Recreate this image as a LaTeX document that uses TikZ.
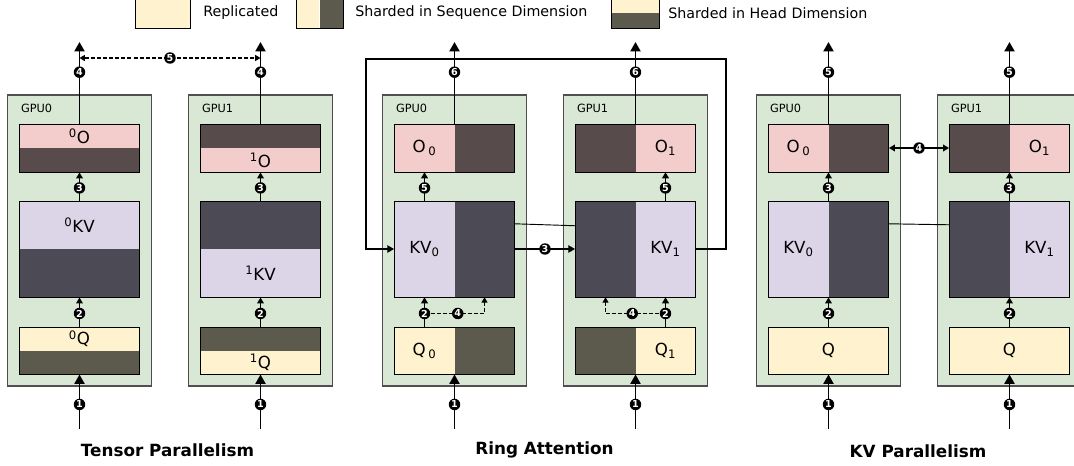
\documentclass[tikz,border=0pt]{standalone}
\usepackage{fontspec}
\setmainfont{DejaVu Sans}
\usepackage{tikz}
\usetikzlibrary{calc}
\usetikzlibrary{arrows.meta}
\definecolor{gpufill}{HTML}{D9E8D4}
\definecolor{gpuline}{HTML}{4F4F4F}
\definecolor{ofill}{HTML}{F2CDCB}
\definecolor{odark}{HTML}{574C4B}
\definecolor{kvfill}{HTML}{DCD4E7}
\definecolor{kvdark}{HTML}{4C4A55}
\definecolor{qfill}{HTML}{FEF2CF}
\definecolor{qdark}{HTML}{5C5A4C}

\begin{document}
\begin{tikzpicture}[x=0.75pt,y=-0.75pt]
		\tikzstyle{gpu}=[draw=gpuline, fill=gpufill, line width=1.1pt, inner sep=0, minimum width=108pt, minimum height=218.25pt]
		\tikzstyle{gpuname}=[inner sep=0, anchor=west, font=\fontsize{8.5}{10}\selectfont]
		\tikzstyle{half}=[inner sep=0, font=\fontsize{12.5}{14}\selectfont]
		\tikzstyle{wide}=[half, minimum width=90pt]
		\tikzstyle{narrow}=[half, minimum width=45pt]
		\tikzstyle{blk}=[draw=black, line width=0.7pt, inner sep=0, minimum width=90pt]
		\tikzstyle{legbox}=[draw=black, line width=0.7pt, inner sep=0, minimum height=21.75pt]
		\tikzstyle{legtext}=[inner sep=0, anchor=west, font=\fontsize{10.7}{13}\selectfont]
		\tikzstyle{title}=[inner sep=0, font=\fontsize{12.6}{14}\selectfont\bfseries]
		\tikzstyle{num}=[circle, fill=black, text=white, inner sep=0, minimum size=8.6pt, font=\fontsize{7.2}{8}\selectfont\bfseries]
		\tikzstyle{bigflow}=[line width=1.4pt, -{Triangle[width=7.5pt,length=7pt]}]
		\tikzstyle{flow}=[line width=1.2pt, -{Triangle[width=5pt,length=4.5pt]}]
		\tikzstyle{thinflow}=[line width=0.9pt, -{Triangle[width=5.5pt,length=5pt]}]
		\tikzstyle{thinline}=[line width=0.7pt]
		\tikzstyle{dashflow}=[line width=0.9pt, dash pattern=on 3pt off 1.6pt, -{Triangle[width=4.5pt,length=4pt]}]
		\useasboundingbox (0,0) rectangle (1074,465);

		% legend
		\node[legbox, fill=qfill, minimum width=41.25pt] (leg1) at (162.5,13.5) {};
		\node[legtext] (leg1t) at (203,13) {Replicated};
		\node[inner sep=0, fill=qfill, minimum width=17.6pt, minimum height=21.75pt] (leg2a) at (307.75,13.5) {};
		\node[inner sep=0, fill=qdark, minimum width=17.6pt, minimum height=21.75pt] (leg2b) at (331.25,13.5) {};
		\node[legbox, minimum width=35.25pt] (leg2) at (319.5,13.5) {};
		\node[legtext] (leg2t) at (355,13) {Sharded in Sequence Dimension};
		\node[inner sep=0, fill=qfill, minimum width=36pt, minimum height=10.5pt] (leg3a) at (635,6) {};
		\node[inner sep=0, fill=qdark, minimum width=36pt, minimum height=11.25pt] (leg3b) at (635,20.5) {};
		\node[legbox, minimum width=36pt] (leg3) at (635,13.5) {};
		\node[legtext] (leg3t) at (668,13) {Sharded in Head Dimension};

		% gpu boxes
		\foreach \x/\n/\g in {79.5/tp0/0, 260.5/tp1/1, 454.5/ra0/0, 635.5/ra1/1, 828.5/kp0/0, 1009.5/kp1/1} {
			\node[gpu] (gpu\n) at (\x,240.5) {};
			\node[gpuname] (name\n) at ($(gpu\n.north west)+(14,14)$) {GPU\g};
		}

		% tensor parallelism blocks
		\foreach \bn/\ly/\hh/\lt/\dk in {O/148/48/ofill/odark, KV/249/96/kvfill/kvdark, Q/350.5/47/qfill/qdark} {
			\node[wide, fill=\lt, minimum height={\hh*0.375pt}] (tp0\bn a) at (79.5,\ly-\hh/4) {\textsuperscript{0}\bn};
			\node[wide, fill=\dk, minimum height={\hh*0.375pt}] (tp0\bn b) at (79.5,\ly+\hh/4) {};
			\node[wide, fill=\dk, minimum height={\hh*0.375pt}] (tp1\bn a) at (260.5,\ly-\hh/4) {};
			\node[wide, fill=\lt, minimum height={\hh*0.375pt}] (tp1\bn b) at (260.5,\ly+\hh/4) {\textsuperscript{1}\bn};
		}

		% ring attention and kv parallelism blocks
		\foreach \p/\x in {ra0/454.5, kp0/828.5} {
			\node[narrow, fill=ofill, minimum height=36pt] (\p Oa) at (\x-30,148) {O\,\textsubscript{0}};
			\node[narrow, fill=odark, minimum height=36pt] (\p Ob) at (\x+30,148) {};
			\node[narrow, fill=kvfill, minimum height=72pt] (\p KVa) at (\x-30,249) {KV\textsubscript{0}};
			\node[narrow, fill=kvdark, minimum height=72pt] (\p KVb) at (\x+30,249) {};
		}
		\foreach \p/\x in {ra1/635.5, kp1/1009.5} {
			\node[narrow, fill=odark, minimum height=36pt] (\p Oa) at (\x-30,148) {};
			\node[narrow, fill=ofill, minimum height=36pt] (\p Ob) at (\x+30,148) {O\textsubscript{1}};
			\node[narrow, fill=kvdark, minimum height=72pt] (\p KVa) at (\x-30,249) {};
			\node[narrow, fill=kvfill, minimum height=72pt] (\p KVb) at (\x+30,249) {KV\textsubscript{1}};
		}
		\node[narrow, fill=qfill, minimum height=35.25pt] (ra0Qa) at (424.5,350.5) {Q\,\textsubscript{0}};
		\node[narrow, fill=qdark, minimum height=35.25pt] (ra0Qb) at (484.5,350.5) {};
		\node[narrow, fill=qdark, minimum height=35.25pt] (ra1Qa) at (605.5,350.5) {};
		\node[narrow, fill=qfill, minimum height=35.25pt] (ra1Qb) at (665.5,350.5) {Q\textsubscript{1}};
		\node[wide, fill=qfill, minimum height=35.25pt] (kp0Qa) at (828.5,350.5) {Q};
		\node[wide, fill=qfill, minimum height=35.25pt] (kp1Qa) at (1009.5,350.5) {Q};

		% outlines and inputs
		\foreach \n/\x in {tp0/79.5, tp1/260.5, ra0/454.5, ra1/635.5, kp0/828.5, kp1/1009.5} {
			\node[blk, minimum height=36pt] (\n O) at (\x,148) {};
			\node[blk, minimum height=72pt] (\n KV) at (\x,249) {};
			\node[blk, minimum height=35.25pt] (\n Q) at (\x,350.5) {};
			\coordinate (in\n) at (\x,429);
			\coordinate (out\n) at (\x,42);
			\draw[bigflow] (in\n) -- node[num, pos=0.45] (s1\n) {1} (\n Q.south);
		}

		% tensor parallelism
		\foreach \n in {tp0,tp1} {
			\draw[flow] (\n Q.north) -- node[num, pos=0.45] (s2\n) {2} (\n KV.south);
			\draw[flow] (\n KV.north) -- node[num, pos=0.45] (s3\n) {3} (\n O.south);
			\draw[bigflow] (\n O.north) -- node[num, pos=0.63] (s4\n) {4} (out\n);
		}
		\coordinate (tpd0) at ($(outtp0)+(0,16)$);
		\coordinate (tpd1) at ($(outtp1)+(0,16)$);
		\draw[dashflow, {Triangle[width=4.5pt,length=4pt]}-{Triangle[width=4.5pt,length=4pt]}] (tpd0) -- node[num] (s5tp) {5} (tpd1);

		% ring attention
		\draw[flow] (ra0Qa.north) -- node[num, pos=0.45] (s2ra0) {2} (ra0KVa.south);
		\draw[flow] (ra1Qb.north) -- node[num, pos=0.45] (s2ra1) {2} (ra1KVb.south);
		\draw[dashflow] (s2ra0) -- node[num] (s4ra0) {4} (s2ra0 -| ra0KVb) -- (ra0KVb.south);
		\draw[dashflow] (s2ra1) -- node[num] (s4ra1) {4} (s2ra1 -| ra1KVa) -- (ra1KVa.south);
		\draw[flow] (ra0KVa.north) -- node[num, pos=0.45] (s5ra0) {5} (ra0Oa.south);
		\draw[flow] (ra1KVb.north) -- node[num, pos=0.45] (s5ra1) {5} (ra1Ob.south);
		\draw[bigflow] (ra0O.north) -- node[num, pos=0.63] (s6ra0) {6} (outra0);
		\draw[bigflow] (ra1O.north) -- node[num, pos=0.63] (s6ra1) {6} (outra1);
		\coordinate (ra0side) at ($(ra0KV.north east)!0.24!(ra0KV.south east)$);
		\coordinate (ra1side) at ($(ra1KV.north west)!0.26!(ra1KV.south west)$);
		\draw[thinline] (ra0side) -- (ra1side);
		\draw[thinflow] (ra0KV.east) -- node[num] (s3ra) {3} (ra1KV.west);
		\coordinate (ringR) at ($(ra1KV.east)+(30,0)$);
		\coordinate (ringtop) at (544,59);
		\coordinate (ringL) at ($(ra0KV.west)+(-28,0)$);
		\draw[thinflow] (ra1KV.east) -- (ringR) |- (ringtop) -| (ringL) -- (ra0KV.west);

		% kv parallelism
		\foreach \n in {kp0,kp1} {
			\draw[flow] (\n Q.north) -- node[num, pos=0.45] (s2\n) {2} (\n KV.south);
			\draw[flow] (\n KV.north) -- node[num, pos=0.45] (s3\n) {3} (\n O.south);
			\draw[bigflow] (\n O.north) -- node[num, pos=0.63] (s5\n) {5} (out\n);
		}
		\coordinate (kp0side) at ($(kp0KV.north east)!0.24!(kp0KV.south east)$);
		\coordinate (kp1side) at ($(kp1KV.north west)!0.25!(kp1KV.south west)$);
		\draw[thinline] (kp0side) -- (kp1side);
		\draw[flow, {Triangle[width=5pt,length=4.5pt]}-{Triangle[width=5pt,length=4.5pt]}] (kp0O.east) -- node[num] (s4kp) {4} (kp1O.west);

		% titles
		\node[title] (ttp) at (167.5,450) {Tensor Parallelism};
		\node[title] (tra) at (544.5,450) {Ring Attention};
		\node[title] (tkp) at (918,451) {KV Parallelism};
	\end{tikzpicture}
\end{document}
